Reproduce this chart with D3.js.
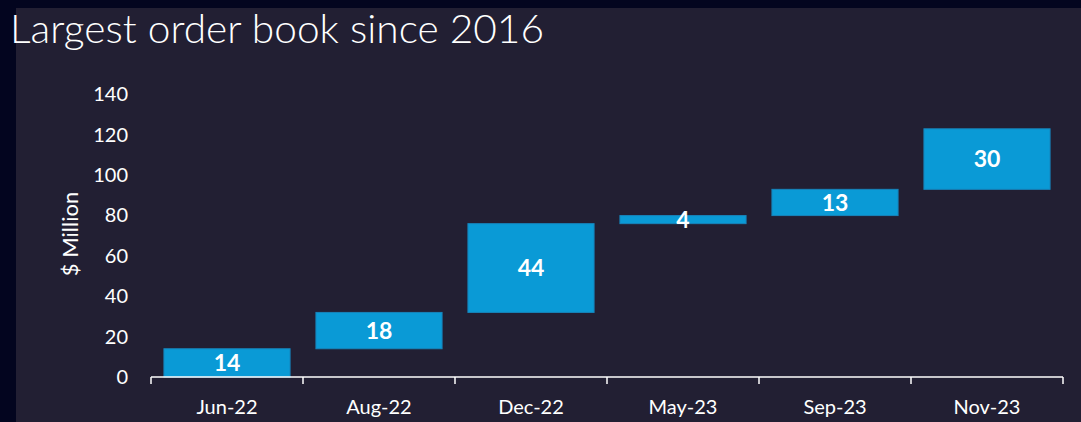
<!DOCTYPE html>
<html lang="en">
<head>
    <meta charset="UTF-8">
    <title>Largest order book since 2016</title>
    <style>
        body {
            margin: 0;
            background: #03051f;
        }

        svg {
            display: block;
        }
    </style>
</head>

<body>
    <svg id="chart"></svg>
</body>

<script src="https://cdn.jsdelivr.net/npm/d3@7"></script>

<script>
    // data
    let months = ["Jun-22", "Aug-22", "Dec-22", "May-23", "Sep-23", "Nov-23"]
    let increments = [14, 18, 44, 4, 13, 30]
    let yTicks = [0, 20, 40, 60, 80, 100, 120, 140]

    let width = 1081;
    let height = 422;

    let svg = d3.select("#chart")
        .attr("width", width)
        .attr("height", height)

    // panel behind the chart
    svg.append("rect")
        .attr("x", 16).attr("y", 8)
        .attr("width", width - 16).attr("height", height - 8)
        .attr("fill", "#221f33")

    svg.append("text")
        .attr("x", 10).attr("y", 43)
        .attr("fill", "#ffffff")
        .attr("textLength", 534)
        .attr("lengthAdjust", "spacingAndGlyphs")
        .style("font-family", "'Lato', 'DejaVu Sans', sans-serif")
        .style("font-weight", 300)
        .style("font-size", "39px")
        .text("Largest order book since 2016")

    let margin = { left: 151, right: 18, top: 94.5, bottom: 45 }

    let xScale = d3.scaleBand()
        .domain(months)
        .range([margin.left, width - margin.right])
        .paddingInner(0.17)
        .paddingOuter(0.085)

    let yScale = d3.scaleLinear()
        .domain([0, 140])
        .range([height - margin.bottom, margin.top])

    // running total gives the floating bars
    let bars = []
    let total = 0
    months.forEach((m, i) => {
        bars.push({ month: m, value: increments[i], start: total, end: total + increments[i] })
        total += increments[i]
    })

    let labelFont = "'Lato', 'Open Sans', 'Noto Sans', sans-serif"

    // y axis (labels only)
    let yAxis = svg.append("g")
        .attr("transform", `translate(${margin.left},0)`)
        .call(d3.axisLeft(yScale).tickValues(yTicks).tickSize(0).tickPadding(23))
    yAxis.select(".domain").remove()
    yAxis.selectAll("text")
        .attr("fill", "#ffffff")
        .style("font-family", labelFont)
        .style("font-size", "20px")

    svg.append("text")
        .attr("transform", `translate(78,234) rotate(-90)`)
        .attr("text-anchor", "middle")
        .attr("fill", "#ffffff")
        .style("font-family", labelFont)
        .style("font-size", "22px")
        .text("$ Million")

    // bars
    svg.append("g").selectAll("rect")
        .data(bars)
        .enter()
        .append("rect")
        .attr("x", d => xScale(d.month))
        .attr("y", d => yScale(d.end))
        .attr("width", xScale.bandwidth())
        .attr("height", d => yScale(d.start) - yScale(d.end))
        .attr("fill", "#0a9ad6")
        .attr("stroke", "#1784bb")
        .attr("stroke-width", 1)

    svg.append("g").selectAll("text")
        .data(bars)
        .enter()
        .append("text")
        .attr("x", d => xScale(d.month) + xScale.bandwidth() / 2)
        .attr("y", d => yScale((d.start + d.end) / 2))
        .attr("dy", "0.36em")
        .attr("text-anchor", "middle")
        .attr("fill", "#ffffff")
        .style("font-family", labelFont)
        .style("font-weight", "bold")
        .style("font-size", "23px")
        .text(d => d.value)

    // x axis with category boundary ticks
    let xAxisG = svg.append("g")
        .attr("transform", `translate(0,${yScale(0)})`)
    let left = xScale.range()[0]
    let right = xScale.range()[1]
    let step = xScale.step()
    xAxisG.append("line")
        .attr("x1", left).attr("x2", right)
        .attr("stroke", "#ffffff").attr("stroke-width", 1.5)
    xAxisG.selectAll(".tick")
        .data(d3.range(months.length + 1))
        .enter()
        .append("line")
        .attr("x1", i => left + i * step).attr("x2", i => left + i * step)
        .attr("y1", 0).attr("y2", 7)
        .attr("stroke", "#ffffff").attr("stroke-width", 1.5)
    xAxisG.selectAll("text")
        .data(months)
        .enter()
        .append("text")
        .attr("x", d => xScale(d) + xScale.bandwidth() / 2)
        .attr("y", 37)
        .attr("text-anchor", "middle")
        .attr("fill", "#ffffff")
        .style("font-family", labelFont)
        .style("font-size", "20px")
        .text(d => d)
</script>

</html>
